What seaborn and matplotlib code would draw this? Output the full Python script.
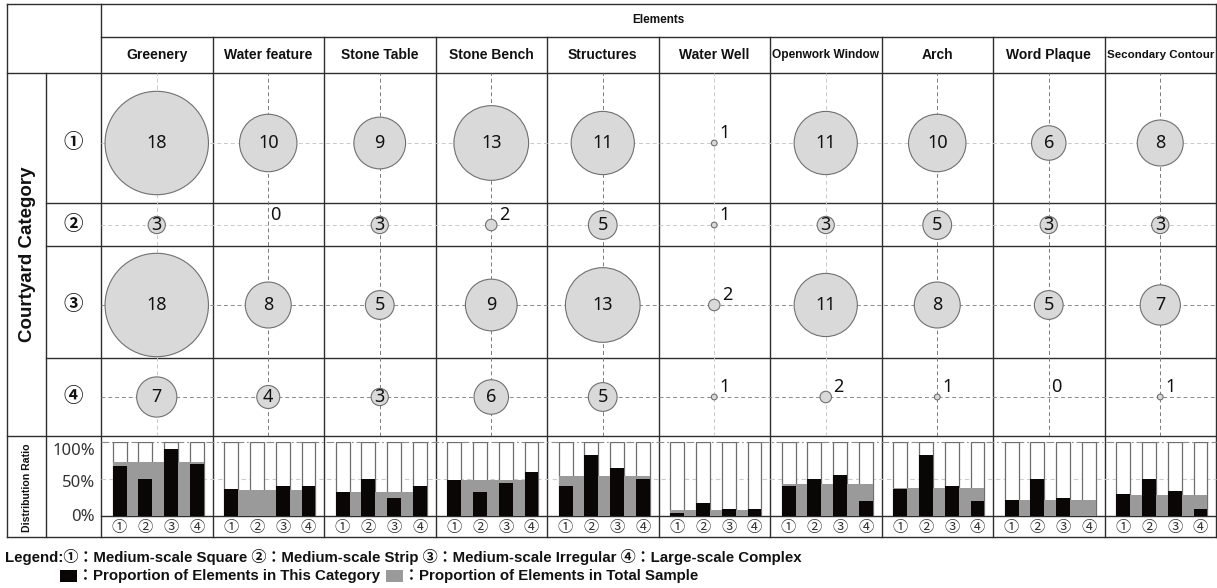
import numpy as np
import pandas as pd
import matplotlib
matplotlib.use("Agg")
import matplotlib.pyplot as plt
import matplotlib.transforms as mtransforms
from matplotlib import font_manager
from matplotlib.patches import Rectangle
import seaborn as sns

# ---------------- data ----------------
elements = ["Greenery", "Water feature", "Stone Table", "Stone Bench", "Structures",
            "Water Well", "Openwork Window", "Arch", "Word Plaque", "Secondary Contour"]
categories = ["①", "②", "③", "④"]
count_cat1 = [18, 10, 9, 13, 11, 1, 11, 10, 6, 8]
count_cat2 = [3, 0, 3, 2, 5, 1, 3, 5, 3, 3]
count_cat3 = [18, 8, 5, 9, 13, 2, 11, 8, 5, 7]
count_cat4 = [7, 4, 3, 6, 5, 1, 2, 1, 0, 1]
# distribution ratio (%) of each element within each category and in the total sample
ratio_cat1 = [67, 37, 33, 48, 41, 4, 41, 37, 21, 30]
ratio_cat2 = [50, 0, 50, 33, 83, 17, 50, 83, 50, 50]
ratio_cat3 = [90, 40, 25, 45, 65, 10, 55, 40, 24, 34]
ratio_cat4 = [70, 40, 40, 60, 50, 10, 20, 20, 0, 9]
ratio_total = [73, 35, 32, 48, 54, 8, 43, 38, 21, 29]
pct_ticks = ["100%", "50%", "0%"]
header_title = "Elements"
row_title = "Courtyard Category"
dist_title = "Distribution Ratio"
legend_cats = ["Medium-scale Square", "Medium-scale Strip", "Medium-scale Irregular", "Large-scale Complex"]
legend_bars = ["Proportion of Elements in This Category", "Proportion of Elements in Total Sample"]

# ---------------- style / layout ----------------
sns.set_theme(style="white")
plt.rcParams['font.family'] = ['Liberation Sans', 'Noto Sans CJK JP', 'DejaVu Sans']
installed = {f.name for f in font_manager.fontManager.ttflist}
NARROW = 'Liberation Sans Narrow' if 'Liberation Sans Narrow' in installed else None
CJK = 'Noto Sans CJK JP'
NUMF = 'Noto Sans'

W, H = 1217, 588
X_L, X_C, X_G, X_R = 7, 46, 101, 1216
COL_W = (X_R - X_G) / 10
Y_TOP, Y_H1, Y_H2 = 4, 37, 73
ROW_B = [73, 203, 246, 358, 436]
ROW_C = [143, 225, 305, 397]
Y_P100, Y_P0, Y_BOT = 442, 516, 537
LC = '#2e2e2e'
TXT = '#111111'
FILL = '#d9d9d9'
EDGE = '#707070'
GREY = '#9a9a9a'
BLACK = '#0b0606'
R18 = 51.7  # radius in px of largest bubble

fig = plt.figure(figsize=(W / 100, H / 100), dpi=100)


def px_axes(x0, y0, x1, y1):
    ax = fig.add_axes([x0 / W, 1 - y1 / H, (x1 - x0) / W, (y1 - y0) / H])
    ax.patch.set_alpha(0)
    return ax


bg = px_axes(0, 0, W, H)
bg.set_xlim(0, W)
bg.set_ylim(H, 0)
bg.axis('off')


def hline(y, x0, x1, color=LC, lw=1.0, ls='-'):
    bg.plot([x0, x1], [y, y], color=color, lw=lw, ls=ls, solid_capstyle='projecting')


def vline(x, y0, y1, color=LC, lw=1.0, ls='-'):
    bg.plot([x, x], [y0, y1], color=color, lw=lw, ls=ls, solid_capstyle='projecting')


# table frame
hline(Y_TOP, X_L, X_R)
hline(Y_H1, X_G, X_R)
hline(Y_H2, X_L, X_R)
for yb in ROW_B[1:-1]:
    hline(yb, X_C, X_R)
hline(ROW_B[-1], X_L, X_R)
hline(Y_P0, X_G, X_R)
hline(Y_BOT, X_L, X_R)
vline(X_L, Y_TOP, Y_BOT)
vline(X_C, Y_H2, Y_BOT)
vline(X_G, Y_TOP, Y_BOT)
for i in range(1, 10):
    vline(X_G + i * COL_W, Y_H1, Y_BOT)
vline(X_R, Y_TOP, Y_BOT)

# percentage guide lines
hline(Y_P100, X_G, X_R, color='#8c8c8c', lw=0.8, ls=(0, (7, 2.5, 1.5, 2.5)))
hline((Y_P100 + Y_P0) / 2, X_G, X_R, color='#cccccc', lw=0.8, ls=(0, (4, 3)))

# header texts
bg.text((X_G + X_R) / 2, 20, header_title, ha='center', va='center', fontsize=8.5,
        fontweight='bold', color=TXT)
fig.canvas.draw()
renderer = fig.canvas.get_renderer()
for i, name in enumerate(elements):
    cx = X_G + (i + 0.5) * COL_W
    t = bg.text(cx, 55, name, ha='center', va='center', fontsize=10, fontweight='bold', color=TXT)
    wdt = t.get_window_extent(renderer).width
    if wdt > COL_W - 5:
        if NARROW:
            t.set_family([NARROW, 'Liberation Sans'])
        else:
            t.set_fontsize(10 * (COL_W - 5) / wdt)

bg.text((X_L + X_C) / 2 + 1, (ROW_B[0] + ROW_B[-1]) / 2, row_title, rotation=90, ha='center',
        va='center', fontsize=13.5, fontweight='bold', color=TXT)
bg.text((X_L + X_C) / 2 + 1, (ROW_B[-1] + Y_BOT) / 2 + 1, dist_title, rotation=90, ha='center',
        va='center', fontsize=9 if NARROW else 7.6, fontweight='bold', color=TXT,
        family=[NARROW, 'Liberation Sans'] if NARROW else ['Liberation Sans'])
for r, c in enumerate(categories):
    bg.text((X_C + X_G) / 2, ROW_C[r], c, ha='center', va='center', fontsize=14,
            family=[CJK], fontweight='bold', color=TXT)
for lab, yy in zip(pct_ticks, [451, 483, 517]):
    bg.text(95, yy, lab, ha='right', va='center', fontsize=12, family=[NUMF], color='#333333')

# ---------------- bubble grid ----------------
bax = px_axes(X_G, ROW_B[0], X_R, ROW_B[-1])
bax.set_xlim(0, 10)
bax.set_ylim(ROW_B[-1], ROW_B[0])
bax.axis('off')

light_cols = {0, 5, 6}
for i in range(10):
    col = '#c9c9c9' if i in light_cols else '#7a7a7a'
    bax.axvline(i + 0.5, color=col, lw=0.7, ls=(0, (4, 3)), zorder=1)
for r in range(4):
    col = '#c9c9c9' if r < 2 else '#8a8a8a'
    bax.axhline(ROW_C[r], color=col, lw=0.7, ls=(0, (4, 3)), zorder=1)

counts = [count_cat1, count_cat2, count_cat3, count_cat4]
recs = []
for r, arr in enumerate(counts):
    for i, v in enumerate(arr):
        recs.append(dict(element=elements[i], cat=categories[r], count=v, x=i + 0.5, y=ROW_C[r]))
df = pd.DataFrame(recs)
df_nz = df[df['count'] > 0].copy()
df_nz['area'] = df_nz['count'] ** 2
vmax = max(max(a) for a in counts)
s_max = (2 * R18 * 0.72) ** 2
sns.scatterplot(data=df_nz, x='x', y='y', size='area', sizes=(0, s_max),
                size_norm=(0, vmax ** 2), color=FILL, edgecolor=EDGE, linewidth=0.8,
                legend=False, ax=bax, zorder=3, clip_on=False)
bax.set_xlim(0, 10)
bax.set_ylim(ROW_B[-1], ROW_B[0])
bax.axis('off')

for _, row in df.iterrows():
    v = int(row['count'])
    if v >= 3:
        bax.text(row.x, row.y, str(v), ha='center', va='center', fontsize=13,
                 family=[NUMF], color=TXT, zorder=5)
    else:
        rpx = R18 * v / vmax
        bax.annotate(str(v), (row.x, row.y), xytext=(rpx + 2, 5), textcoords='offset pixels',
                     ha='left', va='baseline', fontsize=13, family=[NUMF], color=TXT, zorder=5)

# ---------------- distribution bars ----------------
ratios = [ratio_cat1, ratio_cat2, ratio_cat3, ratio_cat4]
BAR_W = 0.54
for i in range(10):
    x0 = X_G + i * COL_W
    dax = px_axes(x0, Y_P100, x0 + COL_W, Y_P0)
    pos = list(range(4))
    vals = [ratios[r][i] for r in range(4)]
    sns.barplot(x=pos, y=[100] * 4, color='white', saturation=1, width=BAR_W,
                edgecolor='#6e6e6e', linewidth=0.9, ax=dax, zorder=1)
    dax.bar(1.5, ratio_total[i], width=3 + BAR_W, color=GREY, linewidth=0, zorder=2)
    sns.barplot(x=pos, y=vals, color=BLACK, saturation=1, width=BAR_W, linewidth=0,
                ax=dax, zorder=3)
    dax.set_xlim(-0.72, 3.60)
    dax.set_ylim(0, 100)
    dax.axis('off')
    trans = mtransforms.blended_transform_factory(dax.transData, dax.transAxes)
    for j, c in enumerate(categories):
        dax.text(j, -0.15, c, transform=trans, ha='center', va='center', fontsize=11,
                 family=[CJK], color='#333333', clip_on=False)

# ---------------- legend ----------------
FAM_L = ['Liberation Sans', CJK]
line1 = "Legend:" + " ".join(f"{c}：{lab}" for c, lab in zip(categories, legend_cats))
bg.text(5, 557, line1, ha='left', va='center', fontsize=10.8, fontweight='bold',
        family=FAM_L, color=TXT)

fig.canvas.draw()
renderer = fig.canvas.get_renderer()
xcur = 60
for col, lab in zip([BLACK, GREY], legend_bars):
    bg.add_patch(Rectangle((xcur, 570), 17, 12, facecolor=col, edgecolor='none'))
    t = bg.text(xcur + 18, 576, "：" + lab, ha='left', va='center', fontsize=10.8,
                fontweight='bold', family=FAM_L, color=TXT)
    ext = t.get_window_extent(renderer)
    xcur = ext.x1 + 6

fig.savefig("out.png", dpi=100)
